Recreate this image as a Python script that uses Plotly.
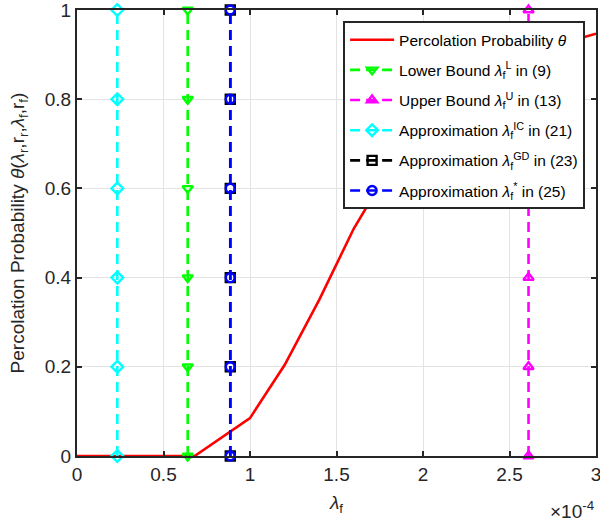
import plotly.graph_objects as go

# Data (x in units of lambda_f)
lam_curve = [0, 0.68e-4, 1.0e-4, 1.2e-4, 1.4e-4, 1.6e-4, 1.8e-4, 2.0e-4, 2.2e-4, 2.4e-4, 2.6e-4, 2.8e-4, 3.0e-4]
theta_curve = [0, 0, 0.085, 0.204, 0.35, 0.51, 0.64, 0.74, 0.81, 0.86, 0.895, 0.925, 0.947]

lam_lower = 0.64e-4
lam_upper = 2.61e-4
lam_ic = 0.233e-4
lam_gd = 0.886e-4
lam_star = 0.886e-4
marker_y = [0, 0.2, 0.4, 0.6, 0.8, 1.0]

xtick_vals = [0, 0.5e-4, 1.0e-4, 1.5e-4, 2.0e-4, 2.5e-4, 3.0e-4]
xtick_text = ["0", "0.5", "1", "1.5", "2", "2.5", "3"]
ytick_vals = [0, 0.2, 0.4, 0.6, 0.8, 1.0]
ytick_text = ["0", "0.2", "0.4", "0.6", "0.8", "1"]

FONT = "Liberation Sans, Arial, Helvetica, sans-serif"
AX = "#262626"

fig = go.Figure()
fig.add_trace(go.Scatter(x=lam_curve, y=theta_curve, mode="lines",
                         line=dict(color="#ff0000", width=2.6),
                         legendgroup="g0",
                         name="Percolation Probability <i>θ</i>"))

vert = [
    (lam_lower, "#00ff00", "triangle-down-open", "Lower Bound <i>λ</i><sub>f</sub><sup>L</sup> in (9)"),
    (lam_upper, "#ff00ff", "triangle-up-open", "Upper Bound <i>λ</i><sub>f</sub><sup>U</sup> in (13)"),
    (lam_ic, "#00ffff", "diamond-open", "Approximation <i>λ</i><sub>f</sub><sup>IC</sup> in (21)"),
    (lam_gd, "#000000", "square-open", "Approximation <i>λ</i><sub>f</sub><sup>GD</sup> in (23)"),
    (lam_star, "#0000ff", "circle-open", "Approximation <i>λ</i><sub>f</sub><sup>*</sup> in (25)"),
]
for i, (xv, col, sym, name) in enumerate(vert):
    fig.add_trace(go.Scatter(
        x=[xv] * len(marker_y), y=marker_y, mode="lines+markers",
        line=dict(color=col, width=2.6, dash="10px,6px"),
        marker=dict(symbol=sym, size=9, color=col, line=dict(color=col, width=2.4)),
        legendgroup="g%d" % (i + 1),
        name=name, cliponaxis=False))

axis_common = dict(showgrid=True, gridcolor="#e3e3e3", gridwidth=1,
                   ticks="inside", ticklen=5, tickwidth=2, tickcolor=AX,
                   showline=True, linecolor=AX, linewidth=2, mirror="allticks",
                   zeroline=False, automargin=False, ticklabeloverflow="allow",
                   tickfont=dict(size=19, color=AX))

fig.update_layout(
    width=600, height=527,
    margin=dict(l=77, r=4, t=10, b=71),
    plot_bgcolor="white", paper_bgcolor="white",
    font=dict(family=FONT, color=AX, size=19),
    showlegend=True,
    legend=dict(x=0.979, y=0.975, xanchor="right", yanchor="top",
                bgcolor="white", bordercolor=AX, borderwidth=2,
                font=dict(size=15.5, color="#000000", family=FONT),
                tracegroupgap=7, itemwidth=44),
    xaxis=dict(range=[0, 3e-4], tickvals=xtick_vals, ticktext=xtick_text,
               title=dict(text="<i>λ</i><sub>f</sub>", font=dict(size=19, color=AX), standoff=12),
               **axis_common),
    yaxis=dict(range=[0, 1], tickvals=ytick_vals, ticktext=ytick_text,
               title=dict(text="Percolation Probability <i>θ</i>(<i>λ</i><sub>r</sub>,r<sub>r</sub>,<i>λ</i><sub>f</sub>,r<sub>f</sub>)",
                          font=dict(size=19, color=AX), standoff=15),
               **axis_common),
)
fig.add_annotation(text="×10<sup>-4</sup>", xref="paper", yref="paper", x=1.0, y=-0.12,
                   xanchor="right", yanchor="middle", showarrow=False,
                   font=dict(size=19, color=AX, family=FONT))

fig.write_html("out.html", config={"displayModeBar": False},
               post_script="document.body.style.margin='0';")
